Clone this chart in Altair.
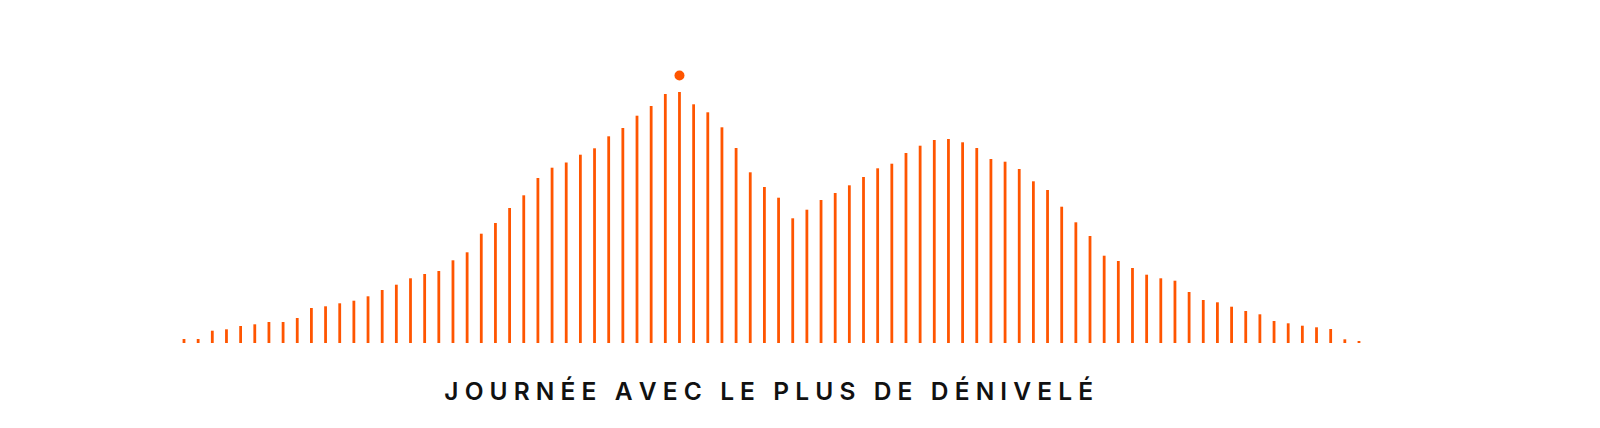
import altair as alt
import pandas as pd

ORANGE = "#ff5500"

jours = list(range(84))
denivele = [
    4, 4, 12.3, 13.7, 17, 18.7, 21, 21, 25, 35,
    36.7, 39.7, 42.3, 46.7, 53, 58.3, 64.7, 69, 72, 82.7,
    90.7, 109.3, 120, 135, 147.7, 165, 175.3, 180.5, 188.3, 194.7,
    206.7, 215, 227.3, 237, 249, 251, 238.7, 230.7, 215.7, 195,
    170.7, 156, 145.3, 124.7, 133.3, 143, 150, 157.7, 166, 174.7,
    179.3, 190, 197.3, 203, 204, 200.7, 195, 184, 181.3, 174,
    161.7, 153, 136.3, 120.7, 107, 87.3, 82, 75, 68.3, 64.7,
    62.3, 51, 43, 40.7, 36.3, 32, 28.7, 22, 19.7, 17.3,
    15.7, 14, 3.7, 2,
]
titre = "JOURNÉE AVEC LE PLUS DE DÉNIVELÉ"

df = pd.DataFrame({"jour": jours, "denivele": denivele})

xs = alt.Scale(domain=[-12.432, 99.46], nice=False, zero=False)
ys = alt.Scale(domain=[-65, 335], nice=False, zero=False)

bars = alt.Chart(df).mark_rule(color=ORANGE, strokeWidth=2.8).encode(
    x=alt.X("jour:Q", scale=xs, axis=None),
    y=alt.Y("denivele:Q", scale=ys, axis=None),
    y2=alt.datum(0),
)

dot = (
    alt.Chart(df)
    .transform_joinaggregate(maxv="max(denivele)")
    .transform_filter("datum.denivele == datum.maxv")
    .mark_circle(color=ORANGE, size=100, opacity=1, yOffset=-16.5)
    .encode(
        x=alt.X("jour:Q", scale=xs, axis=None),
        y=alt.Y("denivele:Q", scale=ys, axis=None),
    )
)

spaced = "\u2005".join(titre)
label = (
    alt.Chart(pd.DataFrame({"t": [spaced]}))
    .mark_text(font="Inter", fontSize=24.5, fontWeight=600, color="#111111",
               baseline="alphabetic", align="center")
    .encode(x=alt.datum(41.3), y=alt.value(392), text="t:N")
)

chart = (
    alt.layer(bars, dot, label)
    .properties(width=1584, height=400, autosize="none", padding=0)
    .configure_view(stroke=None)
)

chart.save("out.html", embed_options={"renderer": "svg", "actions": False})
